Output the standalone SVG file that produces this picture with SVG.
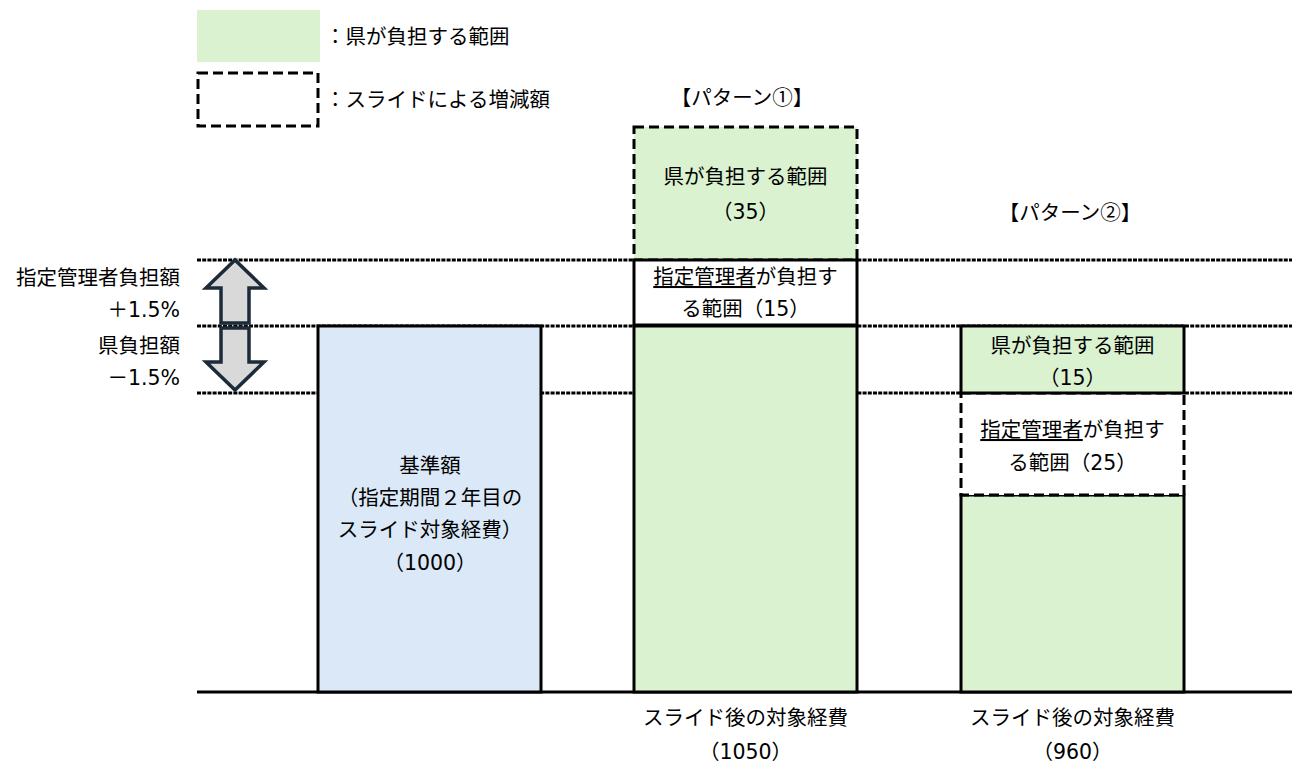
<svg xmlns="http://www.w3.org/2000/svg" width="1292" height="764" viewBox="0 0 1292 764">
<style>
text{font-family:"DejaVu Sans","Noto Sans CJK JP",sans-serif;font-size:20.5px;fill:#000;}
.j{font-family:"Noto Sans CJK JP",sans-serif;}
.c{text-anchor:middle;}
.r{text-anchor:end;}
.green{fill:#DAF2D0;}
.blue{fill:#DAE8F7;}
.solid{stroke:#000;stroke-width:3;}
.dash{stroke:#000;stroke-width:3;stroke-dasharray:10 5;}
.dot{stroke:#000;stroke-width:3;stroke-dasharray:4 1.2;fill:none;}
.arrow{fill:#D9D9D9;stroke:#1C2B39;stroke-width:3.5;stroke-linejoin:miter;}
.u{text-decoration:underline;}
</style>
<rect width="1292" height="764" fill="#fff"/>
<g id="legend">
<rect x="197" y="10" width="123" height="52" class="green"/>
<text x="325" y="44">：県が負担する範囲</text>
<rect x="198" y="73" width="120" height="53" fill="none" class="dash"/>
<text x="325" y="107">：スライドによる増減額</text>
</g>
<g id="connectors">
<line x1="197" y1="260" x2="1292" y2="260" class="dot"/>
<line x1="197" y1="326" x2="1292" y2="326" class="dot"/>
<line x1="197" y1="393" x2="1292" y2="393" class="dot"/>
<line x1="197" y1="692" x2="1292" y2="692" stroke="#000" stroke-width="3"/>
</g>
<g id="scale-arrows">
<polygon class="arrow" points="235,260 264,288 249,288 249,323 221,323 221,288 206,288"/>
<polygon class="arrow" points="221,328 249,328 249,362 264,362 235,390 206,362 221,362"/>
<text x="180" y="285" class="r">指定管理者負担額</text>
<text x="180" y="317" class="r">＋1.5%</text>
<text x="180" y="353" class="r">県負担額</text>
<text x="180" y="385" class="r">－1.5%</text>
</g>
<g id="base-bar">
<rect x="318" y="326" width="223" height="366" class="blue solid"/>
<text x="430" y="473" class="c">基準額</text>
<text x="430" y="505" class="c">（指定期間２年目の</text>
<text x="430" y="537" class="c">スライド対象経費）</text>
<text x="430" y="570" class="c">（1000）</text>
</g>
<g id="pattern1">
<text x="742" y="105" class="c j">【パターン①】</text>
<rect x="634" y="127" width="223" height="133" class="green dash"/>
<text x="745.5" y="184" class="c">県が負担する範囲</text>
<text x="745.5" y="219" class="c">（35）</text>
<rect x="634" y="260" width="223" height="65" fill="#fff" class="solid"/>
<text x="745.5" y="284" class="c"><tspan class="u">指定管理者</tspan>が負担す</text>
<text x="745.5" y="316" class="c">る範囲（15）</text>
<rect x="634" y="326" width="223" height="366" class="green solid"/>
<text x="745.5" y="725" class="c">スライド後の対象経費</text>
<text x="745.5" y="759" class="c">（1050）</text>
</g>
<g id="pattern2">
<text x="1070" y="220" class="c j">【パターン②】</text>
<rect x="961" y="495" width="223" height="197" class="green solid"/>
<rect x="961" y="393" width="223" height="102" fill="#fff" class="dash"/>
<text x="1072.5" y="437" class="c"><tspan class="u">指定管理者</tspan>が負担す</text>
<text x="1072.5" y="470" class="c">る範囲（25）</text>
<rect x="961" y="326" width="223" height="67" class="green solid"/>
<text x="1072.5" y="353" class="c">県が負担する範囲</text>
<text x="1072.5" y="385" class="c">（15）</text>
<text x="1072.5" y="725" class="c">スライド後の対象経費</text>
<text x="1072.5" y="759" class="c">（960）</text>
</g>
</svg>
